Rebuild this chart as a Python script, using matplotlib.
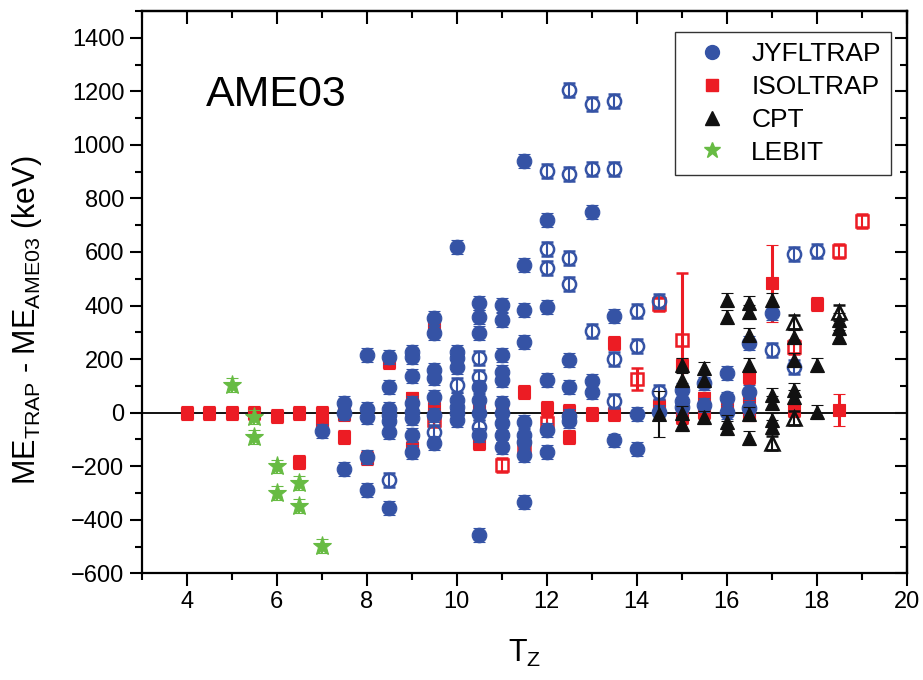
import matplotlib
matplotlib.use("Agg")
import matplotlib.pyplot as plt
from matplotlib.lines import Line2D
from matplotlib.ticker import MultipleLocator

plt.rcParams['font.family'] = ['Liberation Sans', 'DejaVu Sans']
plt.rcParams['mathtext.fontset'] = 'custom'
plt.rcParams['mathtext.rm'] = 'Liberation Sans'
plt.rcParams['mathtext.it'] = 'Liberation Sans:italic'

BLUE = '#3553a5'
RED = '#ec1c24'
BLACK = '#111111'
GREEN = '#67bb43'

# --- JYFLTRAP ---
jyfl_tz = [7,
           7.5, 7.5, 7.5,
           8, 8, 8, 8, 8,
           8.5, 8.5, 8.5, 8.5, 8.5, 8.5, 8.5,
           9, 9, 9, 9, 9, 9, 9, 9,
           9.5, 9.5, 9.5, 9.5, 9.5, 9.5, 9.5,
           10, 10, 10, 10, 10, 10, 10, 10,
           10.5, 10.5, 10.5, 10.5, 10.5, 10.5, 10.5, 10.5,
           11, 11, 11, 11, 11, 11, 11, 11, 11, 11,
           11.5, 11.5, 11.5, 11.5, 11.5, 11.5, 11.5, 11.5, 11.5,
           12, 12, 12, 12, 12,
           12.5, 12.5, 12.5, 12.5,
           13, 13, 13,
           13.5, 13.5,
           14, 14,
           14.5,
           15, 15, 15,
           15.5, 15.5,
           16, 16, 16,
           16.5, 16.5, 16.5,
           17]
jyfl_dme = [-67,
            35, 0, -210,
            216, 15, -15, -167, -289,
            209, 97, 15, -10, -30, -73, -356,
            227, 206, 138, 35, 3, -21, -84, -146,
            352, 296, 159, 128, 59, -9, -115,
            617, 227, 203, 171, 47, 22, -3, -28,
            408, 358, 298, 97, 47, -3, -84, -456,
            402, 346, 215, 153, 122, 35, -3, -40, -84, -127,
            940, 553, 383, 265, -34, -84, -109, -158, -334,
            720, 396, 122, -65, -146,
            198, 97, -11, -30,
            750, 119, 76,
            362, -104,
            -5, -136,
            1,
            84, 45, 22,
            109, 28,
            147, 53, 3,
            259, 78, 16,
            371]

jyfl_open_tz = [8.5, 9.5, 10, 10.5, 10.5, 10.5,
                12, 12, 12, 12.5, 12.5, 12.5, 12.5,
                13, 13, 13, 13.5, 13.5, 13.5, 13.5,
                14, 14, 14.5, 14.5, 17, 17.5, 17.5, 18]
jyfl_open_dme = [-251, -71, 103, 203, 134, -53,
                 903, 612, 541, 1205, 892, 578, 481,
                 1153, 910, 306, 1164, 910, 200, 45,
                 381, 250, 418, 76, 234, 592, 169, 604]

# --- ISOLTRAP ---
isol_tz = [4, 4.5, 5, 5.5, 6, 6.5, 6.5, 7, 7, 7.5, 7.5, 8, 8.5,
           9, 9, 9.5, 9.5, 10.5, 10.5, 11, 11.5, 12, 12.5, 12.5,
           13, 13.5, 13.5, 14.5, 15, 15, 15.5, 15.5, 16,
           16.5, 16.5, 16.5, 17.5, 18]
isol_dme = [0, 0, 0, 0, -11, 0, -185, 0, -45, -5, -92, -170, 188,
            53, -133, 327, 16, 22, -115, 17, 78, 16, 7, -90,
            -5, 259, -5, 26, 178, -15, 53, 3, 35,
            134, 59, -5, 10, 406]

isol_open_tz = [9.5, 11, 11.5, 12, 14.5, 17.5, 18.5, 19]
isol_open_dme = [-28, -196, -127, -40, 407, 246, 604, 716]

# ISOLTRAP points with large uncertainties
isol_wide_tz = [17, 18.5]
isol_wide_dme = [483, 10]
isol_wide_err = [145, 58]
isol_open_wide_tz = [14, 15]
isol_open_wide_dme = [126, 271]
isol_open_wide_err = [40, 250]

# --- CPT ---
cpt_tz = [15, 15, 15, 15,
          15.5, 15.5, 15.5,
          16, 16, 16, 16,
          16.5, 16.5, 16.5, 16.5, 16.5, 16.5,
          17, 17, 17, 17, 17,
          17.5, 17.5, 17.5, 17.5,
          18, 18,
          18.5, 18.5, 18.5]
cpt_dme = [178, 122, 0, -41,
           165, 122, -18,
           420, 358, -34, -59,
           408, 377, 290, 178, -6, -96,
           420, 66, 35, -28, -53,
           283, 196, 84, 59,
           178, 3,
           346, 315, 283]

cpt_open_tz = [17, 17.5, 17.5, 18.5]
cpt_open_dme = [-115, 339, -21, 377]

cpt_wide_tz = [14.5]
cpt_wide_dme = [-5]
cpt_wide_err = [85]

# --- LEBIT ---
lebit_tz = [5, 5.5, 5.5, 6, 6, 6.5, 6.5, 7]
lebit_dme = [103, -17, -92, -201, -301, -264, -347, -499]

SMALL_ERR = 26

fig = plt.figure(figsize=(9.23, 6.8), dpi=100)
ax = fig.add_axes([0.1535, 0.1569, 0.8288, 0.8269])

ax.axhline(0, color=BLACK, lw=1.4, zorder=1)


def draw(x, y, err, color, marker, ms, hollow=False, elw=1.5, z=3):
    ax.errorbar(x, y, yerr=err, fmt=marker, color=color, ms=ms,
                mfc='none' if hollow else color, mec=color,
                mew=1.8 if hollow else 0.8,
                ecolor=color, elinewidth=elw, capsize=4.5, capthick=elw,
                zorder=z, linestyle='none')


draw(isol_tz, isol_dme, SMALL_ERR, RED, 's', 9, z=2)
draw(isol_open_tz, isol_open_dme, SMALL_ERR, RED, 's', 9, hollow=True, z=2)
draw(isol_wide_tz, isol_wide_dme, isol_wide_err, RED, 's', 9, elw=2.2, z=2)
draw(isol_open_wide_tz, isol_open_wide_dme, isol_open_wide_err, RED, 's', 9,
     hollow=True, elw=2.2, z=2)

draw(jyfl_tz, jyfl_dme, SMALL_ERR, BLUE, 'o', 10.5, z=3)
draw(jyfl_open_tz, jyfl_open_dme, SMALL_ERR, BLUE, 'o', 9.5, hollow=True, z=3)

draw(cpt_tz, cpt_dme, SMALL_ERR, BLACK, '^', 10.5, z=4)
draw(cpt_open_tz, cpt_open_dme, SMALL_ERR, BLACK, '^', 10.5, hollow=True, z=4)
draw(cpt_wide_tz, cpt_wide_dme, cpt_wide_err, BLACK, '^', 10.5, z=4)

draw(lebit_tz, lebit_dme, SMALL_ERR, GREEN, '*', 14, z=5)

ax.set_xlim(3, 20)
ax.set_ylim(-600, 1500)
ax.xaxis.set_minor_locator(MultipleLocator(1))
ax.yaxis.set_minor_locator(MultipleLocator(100))
ax.set_xticks(range(4, 21, 2))
ax.set_yticks(range(-600, 1401, 200))

for s in ax.spines.values():
    s.set_linewidth(1.6)
ax.tick_params(which='both', direction='out', width=1.5, labelsize=17,
               top=False, right=False)
ax.tick_params(which='major', length=9)
ax.tick_params(which='minor', length=5)

# inward ticks on the top and right frame
top = ax.secondary_xaxis('top')
top.xaxis.set_major_locator(MultipleLocator(2))
top.xaxis.set_minor_locator(MultipleLocator(1))
top.tick_params(which='both', direction='in', width=1.5, labeltop=False)
top.tick_params(which='major', length=9)
top.tick_params(which='minor', length=5)
top.spines['top'].set_linewidth(1.6)
right = ax.secondary_yaxis('right')
right.yaxis.set_major_locator(MultipleLocator(200))
right.yaxis.set_minor_locator(MultipleLocator(100))
right.tick_params(which='both', direction='in', width=1.5, labelright=False)
right.tick_params(which='major', length=9)
right.tick_params(which='minor', length=5)
right.spines['right'].set_linewidth(1.6)

ax.set_xlabel('T$_{\\mathrm{Z}}$', fontsize=22, labelpad=18)
ax.set_ylabel('ME$_{\\mathrm{TRAP}}$ - ME$_{\\mathrm{AME03}}$ (keV)',
              fontsize=22)
ax.yaxis.set_label_coords(-0.128, 0.45)

ax.text(0.0837, 0.831, 'AME03', transform=ax.transAxes, fontsize=31,
        va='baseline', ha='left')

handles = [
    Line2D([], [], ls='none', marker='o', color=BLUE, ms=10),
    Line2D([], [], ls='none', marker='s', color=RED, ms=8),
    Line2D([], [], ls='none', marker='^', color=BLACK, ms=10),
    Line2D([], [], ls='none', marker='*', color=GREEN, ms=12),
]
leg = ax.legend(handles, ['JYFLTRAP', 'ISOLTRAP', 'CPT', 'LEBIT'],
                loc='upper right', bbox_to_anchor=(0.980, 0.963),
                borderaxespad=0, fontsize=19, frameon=True, fancybox=False,
                edgecolor='#333333', framealpha=1, handlelength=2.0,
                handletextpad=0.5, labelspacing=0.33, borderpad=0.4)
leg.get_frame().set_linewidth(1.0)

fig.savefig('out.png', dpi=100)
